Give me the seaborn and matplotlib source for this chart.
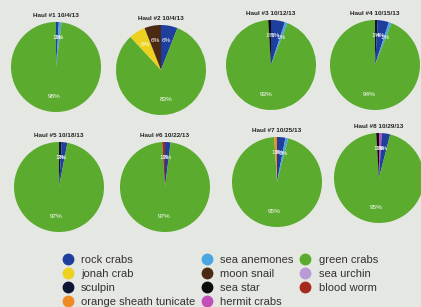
import matplotlib
matplotlib.use("Agg")
import matplotlib.pyplot as plt
from matplotlib.lines import Line2D
import seaborn as sns

# species in the legend order (column-major, 3 columns)
species = ["rock crabs", "jonah crab", "sculpin", "orange sheath tunicate",
           "sea anemones", "moon snail", "sea star", "hermit crabs",
           "green crabs", "sea urchin", "blood worm"]
colors = ["#1f3f9e", "#ecd11f", "#0d1333", "#ef8a25",
          "#4aa5e2", "#4a2a12", "#0b0b0b", "#c24fb8",
          "#5aab2e", "#b89ad6", "#a52a1e"]

# order in which slices are drawn clockwise from 12 o'clock
draw_order = ["sculpin", "hermit crabs", "rock crabs", "sea anemones", "green crabs",
              "jonah crab", "orange sheath tunicate", "moon snail", "sea star",
              "sea urchin", "blood worm"]

titles = ["Haul #1 10/4/13", "Haul #2 10/4/13", "Haul #3 10/12/13", "Haul #4 10/15/13",
          "Haul #5 10/18/13", "Haul #6 10/22/13", "Haul #7 10/25/13", "Haul #8 10/29/13"]

# percent of catch per haul, same order as `species`
haul1 = [1, 0, 0, 0, 1, 0, 0, 0, 98, 0, 0]
haul2 = [6, 6, 0, 0, 0, 6, 0, 0, 83, 0, 0]
haul3 = [5, 0, 0, 0, 1, 0, 1, 0, 93, 0, 0]
haul4 = [4, 0, 1, 0, 1, 0, 0, 0, 94, 0, 0]
haul5 = [2, 0, 1, 0, 0, 0, 0, 0, 97, 0, 0]
haul6 = [2, 0, 0, 0, 0, 0, 0, 0, 97, 0, 1]
haul7 = [3, 0, 0, 1, 1, 0, 0, 0, 95, 0, 0]
haul8 = [3, 0, 0, 0, 0, 0, 1, 1, 95, 0, 0]
hauls = [haul1, haul2, haul3, haul4, haul5, haul6, haul7, haul8]

sns.set_theme(style="white")
plt.rcParams["font.family"] = ["Liberation Sans", "DejaVu Sans"]

W, H = 421, 307
bg = "#e5e7e2"
fig = plt.figure(figsize=(W / 100, H / 100), dpi=100, facecolor=bg)

# pie centres in pixels (the photo is slightly skewed)
centres = [(56, 67), (161, 70), (271, 65), (375, 65),
           (59, 187), (165, 187), (277, 182), (379, 178)]
R = 45

color_of = dict(zip(species, colors))

for title, vals, (cx, cy) in zip(titles, hauls, centres):
    ax = fig.add_axes([(cx - R) / W, 1 - (cy + R) / H, 2 * R / W, 2 * R / H])
    ax.set_facecolor(bg)
    lookup = dict(zip(species, vals))
    names = [s for s in draw_order if lookup[s] > 0]
    sizes = [lookup[s] for s in names]
    total = sum(sizes)
    wedges, texts, autotexts = ax.pie(
        sizes, colors=[color_of[s] for s in names], startangle=90, counterclock=False,
        autopct=lambda p, t=total: f"{round(p * t / 100)}%", pctdistance=0.66,
        wedgeprops=dict(linewidth=0), textprops=dict(color="white", fontsize=4.6))
    ax.set_xlim(-1, 1)
    ax.set_ylim(-1, 1)
    ax.set_title(title, fontsize=4.6, fontweight="bold", color="#222222", pad=3.5)

handles = [Line2D([], [], marker="o", linestyle="", markersize=7.5,
                  markerfacecolor=c, markeredgecolor=c) for c in colors]
fig.legend(handles, species, ncol=3, loc="upper left",
           bbox_to_anchor=(52 / W, 1 - 245 / H), frameon=False,
           fontsize=8, labelspacing=0.36, handlelength=1.0, handletextpad=0.7,
           columnspacing=0.55, labelcolor="#333333")

fig.savefig("out.png", dpi=100, facecolor=bg)
